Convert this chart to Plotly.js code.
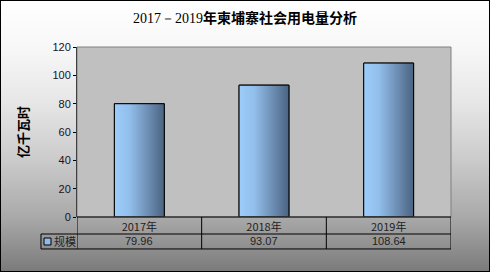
<!DOCTYPE html>
<html>
<head>
<meta charset="utf-8">
<script src="https://cdn.plot.ly/plotly-3.0.1.min.js"></script>
<style>
  html, body { margin: 0; padding: 0; }
  #wrap { position: relative; width: 490px; height: 272px; }
  #chart { width: 490px; height: 272px;
    background: linear-gradient(to bottom, #ffffff 0%, #f7f7f7 18%, #e6e6e6 38%, #cccccc 58%, #a9a9a9 80%, #7a7a7a 100%); }
  #frame { position: absolute; left: 0; top: 0; width: 490px; height: 272px; box-sizing: border-box;
    border: 1px solid #000; pointer-events: none; }
</style>
</head>
<body>
<div id="wrap"><div id="chart"></div><div id="frame"></div></div>
<script>
// ---- data ----
const categories = ['2017年', '2018年', '2019年'];
const values = [79.96, 93.07, 108.64];
const valueLabels = ['79.96', '93.07', '108.64'];
const seriesName = '规模';
const yTicks = [0, 20, 40, 60, 80, 100, 120];
const titleYears = '2017－2019';
const titleRest = '年柬埔寨社会用电量分析';
const yTitle = '亿千瓦时';

// ---- geometry (styles only) ----
const barWidth = 0.4;
const row1Bottom = -0.1;
const row2Bottom = -0.188;
const legendColLeft = -0.0963;
const cjk = '"Noto Sans CJK SC", "Liberation Sans", sans-serif';
const sans = '"Liberation Sans", Arial, sans-serif';

const idx = categories.map((c, i) => i);

const traces = [];
// base bar trace
traces.push({
  type: 'bar', x: idx, y: values, name: seriesName, width: barWidth,
  marker: { color: '#7fa9d6', line: { color: '#000', width: 1 } },
  hoverinfo: 'x+y', showlegend: false
});
// gradient overlay per bar
idx.forEach((i) => {
  const x0 = i - barWidth / 2, x1 = i + barWidth / 2;
  traces.push({
    type: 'scatter', mode: 'lines',
    x: [x0, x1, x1, x0, x0], y: [0, 0, values[i], values[i], 0],
    fill: 'toself',
    fillgradient: { type: 'horizontal', start: x0, stop: x1,
      colorscale: [[0, '#9dcdfb'], [0.3, '#92bfec'], [0.6, '#7598bf'], [1, '#4a6381']] },
    line: { color: '#000', width: 1 },
    hoverinfo: 'skip', showlegend: false
  });
});

const shapes = [];
// plot area border (gray)
shapes.push({ type: 'rect', xref: 'paper', yref: 'paper', x0: 0, x1: 1, y0: 0, y1: 1,
  line: { color: '#808080', width: 1 }, layer: 'above' });
// table lines
const tl = { color: '#000', width: 1 };
shapes.push({ type: 'line', xref: 'paper', yref: 'paper', x0: 0, x1: 1, y0: 0, y1: 0, line: tl });
shapes.push({ type: 'line', xref: 'paper', yref: 'paper', x0: legendColLeft, x1: 1, y0: row1Bottom, y1: row1Bottom, line: tl });
shapes.push({ type: 'line', xref: 'paper', yref: 'paper', x0: legendColLeft, x1: 1, y0: row2Bottom, y1: row2Bottom, line: tl });
shapes.push({ type: 'line', xref: 'paper', yref: 'paper', x0: legendColLeft, x1: legendColLeft, y0: row1Bottom, y1: row2Bottom, line: tl });
for (let k = 0; k <= categories.length; k++) {
  shapes.push({ type: 'line', xref: 'x', yref: 'paper', x0: k - 0.5, x1: k - 0.5, y0: 0, y1: row2Bottom, line: tl });
}
// legend key square
shapes.push({ type: 'rect', xref: 'paper', yref: 'paper', x0: -0.0882, x1: -0.0695, y0: -0.1235, y1: -0.1647,
  fillcolor: '#8fbbe6', line: { color: '#000', width: 1 } });

const annotations = [];
idx.forEach((i) => {
  annotations.push({ xref: 'x', yref: 'paper', x: i, y: (row1Bottom + row2Bottom) / 2,
    text: valueLabels[i], showarrow: false, xanchor: 'center', yanchor: 'middle',
    font: { family: sans, size: 11, color: '#222' } });
});
annotations.push({ xref: 'paper', yref: 'paper', x: -0.066, y: (row1Bottom + row2Bottom) / 2,
  text: seriesName, showarrow: false, xanchor: 'left', yanchor: 'middle',
  font: { family: cjk, size: 11, color: '#222' } });

const layout = {
  width: 490, height: 272,
  margin: { l: 77, r: 39, t: 47, b: 55 },
  paper_bgcolor: 'rgba(0,0,0,0)',
  plot_bgcolor: '#c0c0c0',
  showlegend: false,
  title: {
    text: '<span style="font-family:\'Liberation Serif\', serif;font-weight:normal">' + titleYears +
          '</span><b>' + titleRest + '</b>',
    font: { family: cjk, size: 14, color: '#000' },
    x: 0.5, xref: 'container', xanchor: 'center',
    y: 1 - 18 / 272, yref: 'container', yanchor: 'middle'
  },
  xaxis: {
    range: [-0.5, 2.5], tickvals: idx, ticktext: categories,
    showgrid: false, zeroline: false, showline: false, ticks: '',
    ticklabelstandoff: 2,
    tickfont: { family: cjk, size: 11, color: '#222' }, fixedrange: true
  },
  yaxis: {
    range: [0, 120], tickvals: yTicks, showgrid: false, zeroline: false,
    showline: true, linecolor: '#000', linewidth: 1,
    ticks: 'outside', ticklen: 3, tickcolor: '#000',
    tickfont: { family: sans, size: 11, color: '#1a1028' },
    title: { text: '<b>' + yTitle + '</b>', font: { family: cjk, size: 13, color: '#000' }, standoff: 20 },
    fixedrange: true
  },
  shapes: shapes,
  annotations: annotations,
  bargap: 0.6
};

Plotly.newPlot('chart', traces, layout, { displayModeBar: false, staticPlot: true });
</script>
</body>
</html>
